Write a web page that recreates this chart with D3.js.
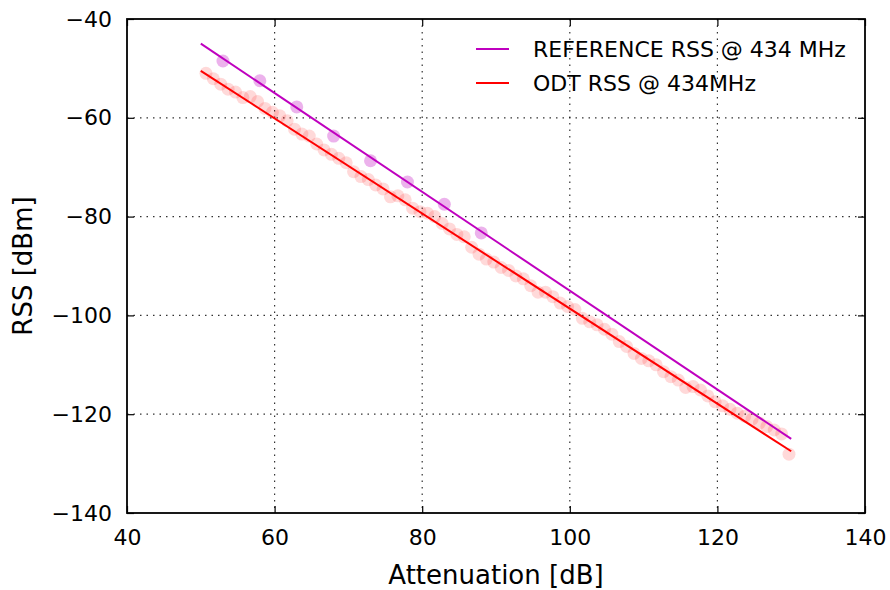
<!DOCTYPE html>
<html lang="en">
<head>
  <meta charset="UTF-8">
  <title>RSS vs Attenuation</title>
  <script src="https://d3js.org/d3.v7.min.js"></script>
  <style>
    body { margin: 0; background: #fff; font-family: "DejaVu Sans", sans-serif; }
    .grid line { stroke: #000; stroke-width: 1.2; stroke-dasharray: 1.5 5; opacity: 0.8; }
    .axis text { font-size: 22px; font-family: "DejaVu Sans", sans-serif; fill: #000; }
  </style>
</head>
<body>
  <div id="chart"></div>
  <script>
    // reference measurement (magenta dots)
    const refAtt = [53, 58, 63, 68, 73, 78, 83, 88];
    const refRss = [-48.5, -52.5, -57.8, -63.7, -68.7, -73.0, -77.5, -83.3];

    // ODT measurement (pink dots)
    const odtAtt = [50.7, 51.7, 52.7, 53.7, 54.7, 55.7, 56.7, 57.7, 58.7, 59.7,
      60.7, 61.7, 62.7, 63.7, 64.7, 65.7, 66.7, 67.7, 68.7, 69.7,
      70.7, 71.7, 72.7, 73.7, 74.7, 75.7, 76.7, 77.7, 78.7, 79.7,
      80.7, 81.7, 82.7, 83.7, 84.7, 85.7, 86.7, 87.7, 88.7, 89.7,
      90.7, 91.7, 92.7, 93.7, 94.7, 95.7, 96.7, 97.7, 98.7, 99.7,
      100.7, 101.7, 102.7, 103.7, 104.7, 105.7, 106.7, 107.7, 108.7, 109.7,
      110.7, 111.7, 112.7, 113.7, 114.7, 115.7, 116.7, 117.7, 118.7, 119.7,
      120.7, 121.7, 122.7, 123.7, 124.7, 125.7, 126.7, 127.7, 128.7, 129.7];
    const odtRss = [-51.0, -52.1, -53.2, -54.2, -54.8, -55.9, -55.7, -56.7, -58.1, -58.9,
      -59.6, -60.6, -62.3, -63.3, -63.7, -65.3, -66.5, -67.4, -68.2, -69.1,
      -70.9, -71.9, -72.5, -73.6, -74.4, -76.0, -75.8, -76.6, -78.3, -79.0,
      -79.3, -80.0, -81.4, -82.5, -83.6, -84.1, -86.2, -87.6, -88.6, -89.2,
      -90.3, -90.9, -92.0, -92.6, -94.0, -95.3, -95.3, -96.2, -97.5, -98.2,
      -98.8, -100.6, -101.3, -101.9, -102.8, -103.8, -105.3, -106.3, -107.7, -108.7,
      -109.2, -110.0, -111.4, -112.4, -113.1, -114.6, -114.4, -115.1, -116.3, -117.5,
      -118.3, -119.0, -119.8, -120.4, -121.0, -121.8, -122.5, -123.2, -124.0, -128.1];

    // fitted lines (end points)
    const fitAtt = [50, 130];
    const refFit = [-45, -125];
    const odtFit = [-50.5, -127.5];

    const seriesNames = ["REFERENCE RSS @ 434 MHz", "ODT RSS @ 434MHz"];
    const xTicks = [40, 60, 80, 100, 120, 140];
    const yTicks = [-40, -60, -80, -100, -120, -140];

    const width = 890, height = 590;
    const m = { left: 127, right: 865, top: 19, bottom: 513 };

    const svg = d3.select("#chart").append("svg")
      .attr("width", width)
      .attr("height", height);

    const x = d3.scaleLinear().domain([40, 140]).range([m.left, m.right]);
    const y = d3.scaleLinear().domain([-140, -40]).range([m.bottom, m.top]);

    // dotted grid
    const grid = svg.append("g").attr("class", "grid");
    grid.selectAll(".gx").data(xTicks.slice(1, -1)).enter().append("line")
      .attr("x1", d => x(d)).attr("x2", d => x(d))
      .attr("y1", m.top).attr("y2", m.bottom);
    grid.selectAll(".gy").data(yTicks.slice(1, -1)).enter().append("line")
      .attr("y1", d => y(d)).attr("y2", d => y(d))
      .attr("x1", m.left).attr("x2", m.right);

    // scatter points
    svg.append("g").selectAll("circle")
      .data(d3.zip(odtAtt, odtRss)).enter().append("circle")
      .attr("cx", d => x(d[0])).attr("cy", d => y(d[1]))
      .attr("r", 6.5).attr("fill", "#ff0000").attr("fill-opacity", 0.15);

    svg.append("g").selectAll("circle")
      .data(d3.zip(refAtt, refRss)).enter().append("circle")
      .attr("cx", d => x(d[0])).attr("cy", d => y(d[1]))
      .attr("r", 6.5).attr("fill", "#bf00bf").attr("fill-opacity", 0.3);

    // fit lines
    const line = d3.line().x(d => x(d[0])).y(d => y(d[1]));
    svg.append("path").datum(d3.zip(fitAtt, refFit))
      .attr("d", line).attr("fill", "none").attr("stroke", "#bf00bf").attr("stroke-width", 2);
    svg.append("path").datum(d3.zip(fitAtt, odtFit))
      .attr("d", line).attr("fill", "none").attr("stroke", "#ff0000").attr("stroke-width", 2);

    // axes: inward ticks on all four sides
    const tickLen = 7;
    const xAxisB = d3.axisBottom(x).tickValues(xTicks).tickSize(-tickLen).tickPadding(tickLen + 9).tickFormat(d3.format("d"));
    const xAxisT = d3.axisTop(x).tickValues(xTicks).tickSize(-tickLen).tickFormat("");
    const yAxisL = d3.axisLeft(y).tickValues(yTicks).tickSize(-tickLen).tickPadding(tickLen + 8).tickFormat(d3.format("d"));
    const yAxisR = d3.axisRight(y).tickValues(yTicks).tickSize(-tickLen).tickFormat("");

    const styleAxis = g => {
      g.attr("class", "axis").attr("font-size", 22).attr("font-family", "DejaVu Sans");
      g.select(".domain").remove();
      g.selectAll(".tick line").attr("stroke", "#000").attr("stroke-width", 1.2);
      g.selectAll(".tick text").attr("font-size", 22);
    };
    svg.append("g").attr("transform", `translate(0,${m.bottom})`).call(xAxisB).call(styleAxis);
    svg.append("g").attr("transform", `translate(0,${m.top})`).call(xAxisT).call(styleAxis);
    svg.append("g").attr("transform", `translate(${m.left},0)`).call(yAxisL).call(styleAxis);
    svg.append("g").attr("transform", `translate(${m.right},0)`).call(yAxisR).call(styleAxis);

    // frame
    svg.append("rect")
      .attr("x", m.left).attr("y", m.top)
      .attr("width", m.right - m.left).attr("height", m.bottom - m.top)
      .attr("fill", "none").attr("stroke", "#000").attr("stroke-width", 1.8);

    // axis labels
    svg.append("text")
      .attr("x", (m.left + m.right) / 2).attr("y", 584)
      .attr("text-anchor", "middle").style("font-size", "26px")
      .text("Attenuation [dB]");
    svg.append("text")
      .attr("transform", `translate(32,${(m.top + m.bottom) / 2}) rotate(-90)`)
      .attr("text-anchor", "middle").style("font-size", "26px")
      .text("RSS [dBm]");

    // legend
    const legendColors = ["#bf00bf", "#ff0000"];
    const legend = svg.append("g").attr("transform", "translate(476,49)");
    seriesNames.forEach((name, i) => {
      legend.append("line")
        .attr("x1", 0).attr("x2", 33).attr("y1", i * 34).attr("y2", i * 34)
        .attr("stroke", legendColors[i]).attr("stroke-width", 2);
      legend.append("text")
        .attr("x", 57).attr("y", i * 34 + 8)
        .style("font-size", "22px")
        .text(name);
    });
  </script>
</body>
</html>
